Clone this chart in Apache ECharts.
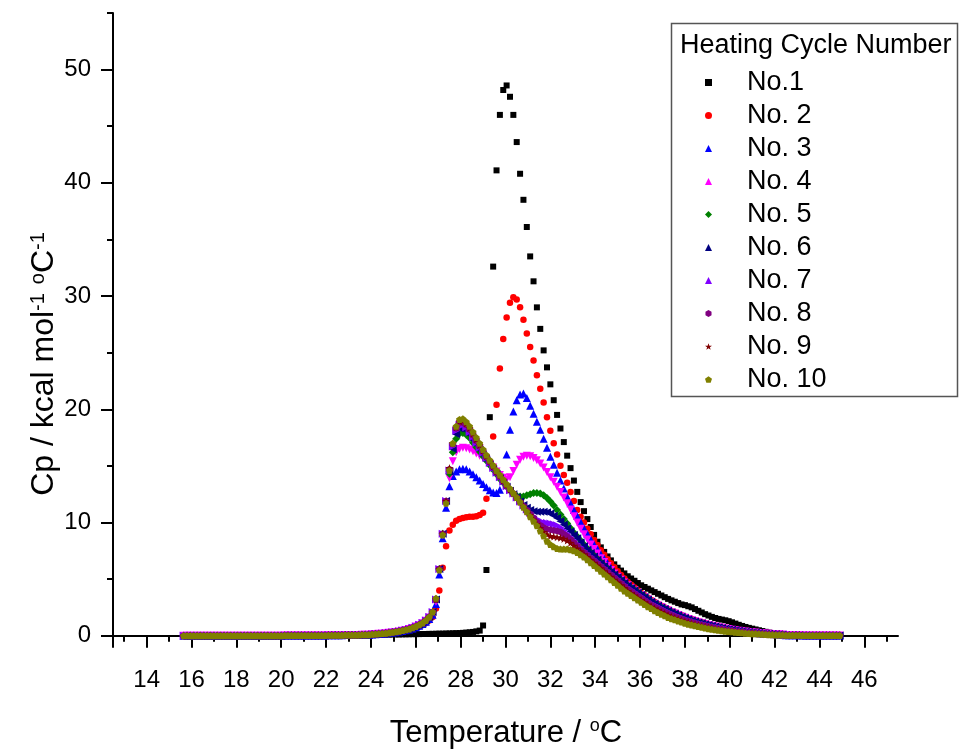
<!DOCTYPE html>
<html>
<head>
<meta charset="utf-8">
<script src="https://cdn.jsdelivr.net/npm/echarts@6/dist/echarts.min.js"></script>
<style>
  html, body { margin: 0; padding: 0; background: #fff; }
  #chart { width: 959px; height: 750px; }
</style>
</head>
<body>
<div id="chart"></div>
<script>
// ---------------------- Data ----------------------
// temperature grid shared by all heating cycles (degC)
let temps = [
  15.65,15.8,15.95,16.1,16.25,16.4,16.55,16.7,16.85,17,
  17.15,17.3,17.45,17.6,17.75,17.9,18.05,18.2,18.35,18.5,
  18.65,18.8,18.95,19.1,19.25,19.4,19.55,19.7,19.85,20,
  20.15,20.3,20.45,20.6,20.75,20.9,21.05,21.2,21.35,21.5,
  21.65,21.8,21.95,22.1,22.25,22.4,22.55,22.7,22.85,23,
  23.15,23.3,23.45,23.6,23.75,23.9,24.05,24.2,24.35,24.5,
  24.65,24.8,24.95,25.1,25.25,25.4,25.55,25.7,25.85,26,
  26.15,26.3,26.45,26.6,26.75,26.9,27.05,27.2,27.35,27.5,
  27.65,27.8,27.95,28.1,28.25,28.4,28.55,28.7,28.85,29,
  29.15,29.3,29.45,29.6,29.75,29.9,30.05,30.2,30.35,30.5,
  30.65,30.8,30.95,31.1,31.25,31.4,31.55,31.7,31.85,32,
  32.15,32.3,32.45,32.6,32.75,32.9,33.05,33.2,33.35,33.5,
  33.65,33.8,33.95,34.1,34.25,34.4,34.55,34.7,34.85,35,
  35.15,35.3,35.45,35.6,35.75,35.9,36.05,36.2,36.35,36.5,
  36.65,36.8,36.95,37.1,37.25,37.4,37.55,37.7,37.85,38,
  38.15,38.3,38.45,38.6,38.75,38.9,39.05,39.2,39.35,39.5,
  39.65,39.8,39.95,40.1,40.25,40.4,40.55,40.7,40.85,41,
  41.15,41.3,41.45,41.6,41.75,41.9,42.05,42.2,42.35,42.5,
  42.65,42.8,42.95,43.1,43.25,43.4,43.55,43.7,43.85,44,
  44.15,44.3,44.45,44.6,44.75,44.9
];

// flat baseline common to every cycle: 15.65 .. 23.9
let baseLow = [
  0,0,0,0,0,0,0,0,0,0,
  0,0,0,0,0,0,0,0,0,0,
  0,0,0,0,0,0,0,0,0,0,
  0.01,0.01,0.01,0.01,0.01,0.01,0.01,0.01,0.01,0.01,
  0.02,0.02,0.02,0.03,0.03,0.03,0.04,0.04,0.05,0.05,
  0.06,0.06,0.07,0.08,0.08,0.09
];
// flat tail common to every cycle: 42.5 .. 44.9
let baseHigh = [0.04,0.04,0.03,0.03,0.03,0.02,0.02,0.02,0.02,0.02,0.01,0.01,0.01,0.01,0.01,0.01,0.01];

// each cycle: 24.05 .. 42.35
let cycle1 = [
  0.08,0.08,0.09,0.09,0.1,0.1,0.1,0.11,0.11,0.12,0.12,0.13,0.13,0.14,0.14,0.15,0.15,0.16,0.16,0.17,
  0.18,0.18,0.19,0.2,0.21,0.22,0.23, 0.25,0.27,0.3,0.33,0.38,0.45, 0.9,5.8,19.3,32.6,41.1,46.0,48.2,
  48.6,47.6,46.0,43.6,40.8,38.5,36.1, 33.5,31.3,29.0,27.1,25.2,23.7, 22.2,20.8,19.5,18.3,17.1,15.9,14.8,
  13.7,12.7,11.8,11.0,10.3,9.6,8.9, 8.3,7.8,7.4,7.0,6.65,6.3,
  6.0,5.75,5.5,5.25,5.05,4.85,4.65,4.45,4.3,4.15, 4.0,3.85,3.7,3.55,3.4,3.25,3.12,3.0,2.88,2.76,
  2.7,2.6,2.5,2.35,2.2,2.05,1.9,1.78,1.66,1.56, 1.48,1.42,1.36,1.28,1.18,1.07,0.96,0.86,0.77,0.69,
  0.62,0.55,0.48,0.41,0.34,0.27,0.2,0.15,0.11,0.08
];
let cycle2 = [
  0.1,0.12,0.14,0.16,0.19,0.22,0.25,0.29,0.33,0.38,0.44,0.51,0.59,0.69,0.81,0.95,1.12,1.35,1.65,2.4,
  4.0,6.0,7.9,9.3,9.8,10.15,10.3, 10.4,10.45,10.5,10.5,10.55,10.65, 10.85,12.1,15.2,17.6,20.4,23.6,26.2,
  28.1,29.4,29.9,29.7,29.0,27.9,26.7, 25.5,24.3,23.0,21.8,20.6,19.3, 18.1,17.0,16.0,15.0,14.2,13.5,12.7,
  11.9,11.1,10.5,10.0,9.45,8.95,8.45, 8.0,7.55,7.15,6.75,6.4,6.05,
  5.7,5.35,5.05,4.75,4.5,4.25,4.0,3.78,3.56,3.35, 3.15,2.97,2.8,2.64,2.48,2.33,2.19,2.05,1.92,1.8,
  1.68,1.57,1.47,1.37,1.28,1.19,1.11,1.03,0.96,0.89, 0.82,0.76,0.7,0.64,0.59,0.54,0.49,0.45,0.41,0.37,
  0.33,0.3,0.27,0.24,0.21,0.19,0.17,0.15,0.13,0.11
];
let cycle3 = [
  0.11,0.13,0.15,0.17,0.2,0.23,0.27,0.31,0.36,0.41,0.47,0.55,0.64,0.75,0.88,1.03,1.22,1.48,1.85,2.8,
  5.4,8.6,11.3,13.2,14.1,14.5,14.7, 14.75,14.7,14.5,14.25,14.0,13.7, 13.4,13.1,12.85,12.65,12.6,12.9,14.0,
  16.0,18.2,19.8,20.8,21.3,21.4,21.0, 20.3,19.6,18.9,18.2,17.4,16.6, 15.8,15.1,14.4,13.7,13.0,12.3,11.7,
  11.1,10.6,10.05,9.5,9.0,8.5,8.05, 7.65,7.2,6.8,6.4,6.0,5.6,
  5.25,4.95,4.7,4.45,4.2,3.95,3.72,3.5,3.3,3.1, 2.92,2.75,2.58,2.42,2.27,2.13,1.99,1.86,1.73,1.61,
  1.5,1.4,1.3,1.21,1.12,1.04,0.97,0.9,0.83,0.77, 0.71,0.65,0.6,0.55,0.5,0.46,0.42,0.38,0.34,0.31,
  0.28,0.25,0.22,0.2,0.18,0.16,0.14,0.12,0.11,0.1
];
let cycle4 = [
  0.12,0.14,0.16,0.18,0.21,0.25,0.29,0.33,0.38,0.44,0.5,0.58,0.68,0.8,0.93,1.1,1.31,1.6,2.0,3.0,
  5.8,8.9,11.7,13.9,15.4,16.2,16.5, 16.6,16.55,16.45,16.3,16.1,15.9, 15.7,15.45,15.15,14.85,14.5,14.2,13.95,
  13.8,14.0,14.55,15.1,15.55,15.8,15.9, 15.85,15.7,15.5,15.2,14.85,14.45, 14.0,13.6,13.15,12.7,12.2,11.7,11.15,
  10.55,10.0,9.45,8.95,8.5,8.05,7.65, 7.25,6.85,6.5,6.15,5.8,5.5,
  5.2,4.95,4.7,4.45,4.2,4.0,3.8,3.6,3.4,3.2, 3.0,2.83,2.67,2.51,2.36,2.22,2.08,1.95,1.82,1.7,
  1.58,1.47,1.37,1.28,1.19,1.1,1.02,0.95,0.88,0.81, 0.75,0.69,0.63,0.58,0.53,0.48,0.44,0.4,0.36,0.33,
  0.3,0.27,0.24,0.21,0.19,0.17,0.15,0.13,0.12,0.1
];
let cycle5 = [
  0.12,0.14,0.16,0.19,0.22,0.26,0.3,0.34,0.39,0.45,0.52,0.6,0.7,0.82,0.96,1.13,1.35,1.65,2.1,3.2,
  5.9,9.0,11.8,14.3,16.2,17.4,17.85, 17.9,17.75,17.45,17.05,16.65,16.25, 15.85,15.45,15.05,14.65,14.25,13.85,13.5,
  13.15,12.8,12.55,12.35,12.3,12.3,12.4, 12.5,12.6,12.6,12.55,12.4,12.15, 11.85,11.5,11.1,10.7,10.3,9.9,9.5,
  9.1,8.75,8.4,8.05,7.7,7.4,7.1, 6.8,6.5,6.2,5.95,5.7,5.45,
  5.2,4.95,4.7,4.45,4.25,4.05,3.85,3.65,3.45,3.25, 3.05,2.87,2.7,2.54,2.38,2.23,2.09,1.96,1.83,1.7,
  1.58,1.47,1.37,1.27,1.18,1.1,1.02,0.95,0.88,0.81, 0.75,0.69,0.63,0.58,0.53,0.48,0.44,0.4,0.36,0.33,
  0.3,0.27,0.24,0.21,0.19,0.17,0.15,0.13,0.12,0.1
];
let cycle6 = [
  0.12,0.14,0.16,0.19,0.22,0.26,0.3,0.34,0.39,0.45,0.52,0.6,0.7,0.82,0.96,1.13,1.35,1.65,2.1,3.2,
  5.9,9.0,11.9,14.5,16.5,17.8,18.3, 18.3,18.1,17.75,17.3,16.85,16.4, 15.95,15.5,15.1,14.7,14.3,13.9,13.5,
  13.15,12.8,12.5,12.2,11.85,11.55,11.3, 11.1,11.0,10.95,10.95,10.95,10.9, 10.8,10.6,10.4,10.1,9.8,9.5,9.2,
  8.9,8.6,8.25,7.9,7.6,7.3,7.0, 6.7,6.4,6.15,5.9,5.65,5.4,
  5.15,4.9,4.65,4.4,4.2,4.0,3.8,3.6,3.4,3.2, 3.0,2.82,2.65,2.5,2.35,2.2,2.06,1.93,1.8,1.68,
  1.56,1.45,1.35,1.26,1.17,1.09,1.01,0.94,0.87,0.8, 0.74,0.68,0.62,0.57,0.52,0.47,0.43,0.39,0.35,0.32,
  0.29,0.26,0.23,0.2,0.18,0.16,0.14,0.12,0.11,0.1
];
let cycle7 = [
  0.12,0.14,0.16,0.19,0.22,0.26,0.3,0.34,0.39,0.45,0.52,0.6,0.7,0.82,0.96,1.13,1.35,1.65,2.1,3.2,
  5.9,9.0,11.9,14.6,16.7,18.1,18.6, 18.6,18.4,18.0,17.55,17.05,16.6, 16.15,15.7,15.25,14.8,14.4,14.0,13.6,
  13.2,12.85,12.55,12.2,11.85,11.5,11.15, 10.85,10.55,10.3,10.1,10.0,9.95, 9.9,9.85,9.75,9.55,9.3,9.0,8.7,
  8.4,8.1,7.8,7.5,7.25,7.0,6.75, 6.5,6.25,6.0,5.75,5.5,5.25,
  5.0,4.75,4.5,4.25,4.05,3.85,3.65,3.45,3.25,3.05, 2.85,2.7,2.55,2.4,2.25,2.1,1.96,1.83,1.7,1.58,
  1.47,1.37,1.27,1.18,1.1,1.02,0.95,0.88,0.81,0.75, 0.69,0.63,0.58,0.53,0.48,0.44,0.4,0.36,0.33,0.3,
  0.27,0.24,0.21,0.19,0.17,0.15,0.13,0.11,0.1,0.09
];
let cycle8 = [
  0.12,0.14,0.16,0.19,0.22,0.26,0.3,0.34,0.39,0.45,0.52,0.6,0.7,0.82,0.96,1.13,1.35,1.65,2.1,3.2,
  5.9,9.0,11.9,14.7,16.9,18.3,18.8, 18.8,18.6,18.2,17.7,17.2,16.7, 16.25,15.8,15.35,14.9,14.45,14.05,13.65,
  13.25,12.9,12.55,12.2,11.8,11.45,11.1, 10.75,10.4,10.05,9.75,9.55,9.4, 9.35,9.3,9.25,9.15,8.95,8.75,8.5,
  8.2,7.9,7.6,7.35,7.1,6.85,6.6, 6.35,6.1,5.85,5.6,5.35,5.1,
  4.85,4.6,4.35,4.1,3.9,3.7,3.5,3.3,3.1,2.9, 2.7,2.55,2.4,2.25,2.1,1.95,1.82,1.7,1.58,1.47,
  1.37,1.27,1.18,1.1,1.02,0.94,0.87,0.8,0.74,0.68, 0.62,0.57,0.52,0.47,0.43,0.39,0.35,0.32,0.29,0.26,
  0.23,0.21,0.19,0.17,0.15,0.13,0.11,0.1,0.09,0.08
];
let cycle9 = [
  0.12,0.14,0.16,0.19,0.22,0.26,0.3,0.34,0.39,0.45,0.52,0.6,0.7,0.82,0.96,1.13,1.35,1.65,2.1,3.2,
  5.9,9.0,11.9,14.8,17.0,18.4,18.95, 19.0,18.75,18.35,17.85,17.35,16.85, 16.35,15.85,15.4,14.95,14.5,14.1,13.7,
  13.3,12.9,12.55,12.2,11.8,11.4,11.0, 10.65,10.25,9.85,9.5,9.15,8.95, 8.8,8.75,8.7,8.65,8.55,8.4,8.2,
  7.95,7.7,7.45,7.2,6.95,6.7,6.45, 6.2,5.95,5.7,5.45,5.2,4.95,
  4.7,4.45,4.2,3.95,3.75,3.55,3.35,3.15,2.95,2.75, 2.55,2.4,2.25,2.1,1.95,1.8,1.68,1.56,1.45,1.35,
  1.25,1.16,1.08,1.0,0.92,0.85,0.78,0.72,0.66,0.6, 0.55,0.5,0.46,0.42,0.38,0.35,0.32,0.29,0.26,0.23,
  0.21,0.19,0.17,0.15,0.13,0.11,0.1,0.09,0.08,0.07
];
let cycle10 = [
  0.12,0.14,0.16,0.19,0.22,0.26,0.3,0.34,0.39,0.45,0.52,0.6,0.7,0.82,0.96,1.13,1.35,1.65,2.1,3.3,
  5.8,8.9,11.7,14.6,17.0,18.5,19.1, 19.15,18.9,18.5,18.0,17.5,17.0, 16.45,15.95,15.5,15.05,14.6,14.2,13.8,
  13.4,13.0,12.6,12.2,11.8,11.35,10.95, 10.5,10.1,9.7,9.25,8.8,8.35, 8.05,7.85,7.7,7.65,7.65,7.65,7.6,
  7.5,7.35,7.15,6.95,6.7,6.45,6.2, 5.95,5.7,5.45,5.2,4.95,4.7,
  4.45,4.2,3.95,3.75,3.55,3.35,3.15,2.95,2.75,2.55, 2.4,2.2,2.05,1.9,1.75,1.6,1.5,1.4,1.3,1.2,
  1.1,1.02,0.95,0.88,0.8,0.74,0.68,0.62,0.57,0.52, 0.48,0.44,0.4,0.37,0.34,0.31,0.28,0.25,0.22,0.2,
  0.18,0.16,0.14,0.12,0.1,0.09,0.08,0.07,0.06,0.05
];

let cycleNames = ['No.1', 'No. 2', 'No. 3', 'No. 4', 'No. 5', 'No. 6', 'No. 7', 'No. 8', 'No. 9', 'No. 10'];
let cycleValues = [cycle1, cycle2, cycle3, cycle4, cycle5, cycle6, cycle7, cycle8, cycle9, cycle10];

// tick labels
let xMajorTicks = [14, 16, 18, 20, 22, 24, 26, 28, 30, 32, 34, 36, 38, 40, 42, 44, 46];
let xMinorTicks = [13, 15, 17, 19, 21, 23, 25, 27, 29, 31, 33, 35, 37, 39, 41, 43, 45, 47];
let yMajorTicks = [0, 10, 20, 30, 40, 50];
let yMinorTicks = [5, 15, 25, 35, 45, 55];

// -------------------- Style --------------------
let font = 'Arial, "Liberation Sans", sans-serif';
let colors = ['#000000', '#ff0000', '#0000ff', '#ff00ff', '#008000', '#000080', '#8000ff', '#800080', '#800000', '#808000'];
let hexagon = 'path://M0,-10 L8.66,-5 L8.66,5 L0,10 L-8.66,5 L-8.66,-5 Z';
let star = 'path://M0,-10 L2.35,-3.24 L9.51,-3.09 L3.8,1.24 L5.88,8.09 L0,4 L-5.88,8.09 L-3.8,1.24 L-9.51,-3.09 L-2.35,-3.24 Z';
let pentagon = 'path://M0,-10 L9.51,-3.09 L5.88,8.09 L-5.88,8.09 L-9.51,-3.09 Z';
let symbols = ['rect', 'circle', 'triangle', 'triangle', 'diamond', 'triangle', 'triangle', hexagon, star, pentagon];
let rotations = [0, 0, 0, 180, 0, 90, -90, 0, 0, 0];
let sizes = [6, 6.5, 8, 8, 8, 8, 8, 7, 8, 7];

// -------------------- Series --------------------
let series_list = cycleValues.map(function (vals, n) {
    let ys = baseLow.concat(vals, baseHigh);
    let pts = [];
    for (let i = 0; i < temps.length && i < ys.length; i++) {
        pts.push([temps[i], ys[i]]);
    }
    return {
        type: 'scatter',
        name: cycleNames[n],
        data: pts,
        symbol: symbols[n],
        symbolRotate: rotations[n],
        symbolSize: sizes[n],
        itemStyle: {color: colors[n], opacity: 1},
        emphasis: {disabled: true},
        animation: false
    };
});

let chart = echarts.init(document.getElementById('chart'));
let axisBlack = {color: '#000', width: 2};

let option = {
    backgroundColor: '#fff',
    animation: false,
    grid: {left: 113, right: 61, top: 13, bottom: 103, outerBoundsMode: 'none'},
    xAxis: [{
        type: 'value', min: 12.5, max: 47.5, position: 'bottom',
        axisLine: {lineStyle: axisBlack},
        axisTick: {customValues: xMajorTicks, length: 12, lineStyle: axisBlack},
        axisLabel: {customValues: xMajorTicks, fontSize: 24, color: '#000', fontFamily: font, margin: 21},
        splitLine: {show: false}
    }, {
        type: 'value', min: 12.5, max: 47.5, position: 'bottom',
        axisLine: {show: false},
        axisTick: {customValues: xMinorTicks, length: 6, lineStyle: axisBlack},
        axisLabel: {show: false},
        splitLine: {show: false}
    }],
    yAxis: [{
        type: 'value', min: -1, max: 55, position: 'left',
        axisLine: {show: true, lineStyle: axisBlack},
        axisTick: {show: true, customValues: yMajorTicks, length: 12, lineStyle: axisBlack},
        axisLabel: {customValues: yMajorTicks, fontSize: 24, color: '#000', fontFamily: font, margin: 22},
        splitLine: {show: false}
    }, {
        type: 'value', min: -1, max: 55, position: 'left',
        axisLine: {show: false},
        axisTick: {show: true, customValues: yMinorTicks, length: 6, lineStyle: axisBlack},
        axisLabel: {show: false},
        splitLine: {show: false}
    }],
    legend: {
        orient: 'vertical',
        left: 705, top: 69, padding: 0,
        itemWidth: 7, itemHeight: 7, itemGap: 6,
        data: cycleNames,
        selectedMode: false,
        textStyle: {fontSize: 27, lineHeight: 26, color: '#000', fontFamily: font, padding: [0, 0, 0, 30]}
    },
    graphic: [{
        type: 'rect', z: 3,
        shape: {x: 671.5, y: 23.5, width: 286, height: 373},
        style: {fill: 'none', stroke: '#555', lineWidth: 1.5}
    }, {
        type: 'text', z: 3, x: 680, y: 46,
        style: {text: 'Heating Cycle Number', fontSize: 27, fontFamily: font, fill: '#000', verticalAlign: 'middle'}
    }, {
        type: 'text', z: 3, x: 506, y: 733,
        style: {
            text: '{t|Temperature / }{s|o}{t|C}',
            align: 'center', verticalAlign: 'middle',
            rich: {
                t: {fontSize: 31, fontFamily: font, fill: '#000', lineHeight: 31},
                s: {fontSize: 18, fontFamily: font, fill: '#000', lineHeight: 16, verticalAlign: 'top'}
            }
        }
    }, {
        type: 'text', z: 3, x: 44, y: 364, rotation: Math.PI / 2,
        style: {
            text: '{t|Cp / kcal mol}{s|-1}{t| }{s|o}{t|C}{s|-1}',
            align: 'center', verticalAlign: 'middle',
            rich: {
                t: {fontSize: 32, fontFamily: font, fill: '#000', lineHeight: 32},
                s: {fontSize: 20, fontFamily: font, fill: '#000', lineHeight: 17, verticalAlign: 'top'}
            }
        }
    }],
    series: series_list
};
chart.setOption(option, true);
</script>
</body>
</html>
